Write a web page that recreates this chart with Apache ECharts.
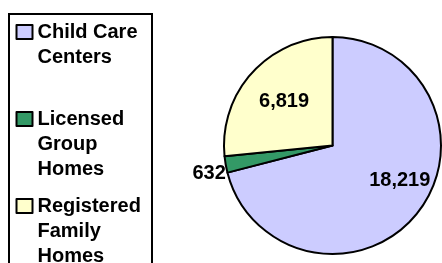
<!DOCTYPE html>
<html>
<head>
<meta charset="utf-8">
<script src="https://cdn.jsdelivr.net/npm/echarts@6/dist/echarts.min.js"></script>
<style>
  html, body { margin: 0; padding: 0; background: #fff; }
  #chart { width: 442px; height: 263px; }
</style>
</head>
<body>
<div id="chart"></div>
<script>
// data
const categories = ['Child Care Centers', 'Licensed Group Homes', 'Registered Family Homes'];
const legendLines = ['Child Care\nCenters\n ', 'Licensed\nGroup\nHomes', 'Registered\nFamily\nHomes'];
const values = [18219, 632, 6819];
const colors = ['#CCCCFF', '#339966', '#FFFFCC'];
// label nudges from the default inside spot
const labelOffsets = [[22, 0], [-67, 18], [-6, -6]];

const chart = echarts.init(document.getElementById('chart'));

const font = 'Liberation Sans, Arial, Helvetica, sans-serif';

// square sitting next to the first text line, inside a 16x75 box
const legendIcon = 'path://M0,0 M16,75 M0,5.5 L16,5.5 L16,19.5 L0,19.5 Z';

const option = {
  animation: false,
  graphic: [{
    type: 'rect',
    shape: { x: 9, y: 14, width: 143, height: 270 },
    style: { fill: 'none', stroke: '#000', lineWidth: 2 },
    z: 1
  }],
  legend: {
    orient: 'vertical',
    left: 15.5,
    top: 18.5,
    height: 400,
    padding: 0,
    icon: legendIcon,
    itemWidth: 16,
    itemHeight: 75,
    itemGap: 10,
    selectedMode: false,
    itemStyle: { borderColor: '#000', borderWidth: 2 },
    formatter: name => legendLines[categories.indexOf(name)],
    textStyle: {
      fontFamily: font,
      fontWeight: 'bold',
      fontSize: 20,
      color: '#000',
      lineHeight: 25
    },
    data: categories
  },
  series: [{
    type: 'pie',
    center: [332.5, 145.5],
    radius: 108.5,
    startAngle: 90,
    clockwise: true,
    avoidLabelOverlap: false,
    itemStyle: { borderColor: '#000', borderWidth: 2 },
    label: {
      show: true,
      position: 'inside',
      fontFamily: font,
      fontWeight: 'bold',
      fontSize: 20,
      color: '#000',
      formatter: p => p.value.toLocaleString('en-US')
    },
    labelLine: { show: false },
    emphasis: { disabled: true },
    data: categories.map((name, i) => ({
      name: name,
      value: values[i],
      itemStyle: { color: colors[i] },
      label: { offset: labelOffsets[i] }
    }))
  }]
};

chart.setOption(option);
</script>
</body>
</html>
